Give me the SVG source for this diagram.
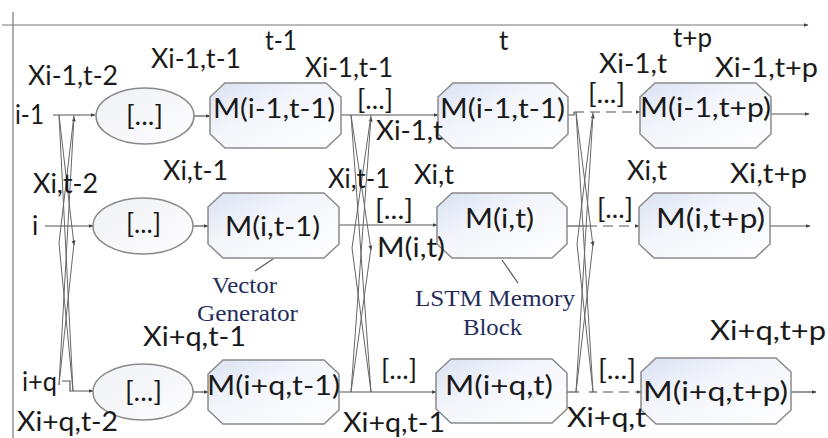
<svg xmlns="http://www.w3.org/2000/svg" width="828" height="438" viewBox="0 0 828 438">
<defs>
<linearGradient id="gb" x1="0" y1="0" x2="1" y2="1">
<stop offset="0" stop-color="#d9e1f2"/>
<stop offset="0.4" stop-color="#f3f5fb"/>
<stop offset="1" stop-color="#ffffff"/>
</linearGradient>
<linearGradient id="ge" x1="0" y1="0" x2="1" y2="1">
<stop offset="0" stop-color="#f0f1f5"/>
<stop offset="1" stop-color="#fdfdfe"/>
</linearGradient>
<marker id="ah" viewBox="0 0 10 10" refX="9" refY="5" markerWidth="5" markerHeight="5" orient="auto" markerUnits="userSpaceOnUse">
<path d="M0,1 L10,5 L0,9 Z" fill="#444"/>
</marker>
</defs>
<style>
.lb{font-family:Lato,"Liberation Sans",sans-serif;font-size:26px;fill:#1a1a1a;}
.sf{font-family:"Liberation Serif","DejaVu Serif",serif;font-size:24px;fill:#1f2d5c;}
.bx{fill:url(#gb);stroke:#8a8a8a;stroke-width:1.5;}
.el{fill:url(#ge);stroke:#8a8a8a;stroke-width:1.5;}
.ln{stroke:#555;stroke-width:1.2;fill:none;}
.cx{stroke:#666;stroke-width:1;fill:none;}
.ds{stroke:#555;stroke-width:1.2;fill:none;stroke-dasharray:10 6;}
.ax{stroke:#777;stroke-width:1.2;fill:none;}
</style>
<rect width="828" height="438" fill="#ffffff"/>

<g id="axes">
<line class="ax" x1="13" y1="12" x2="13" y2="438"/>
<line class="ax" x1="2" y1="25" x2="808" y2="25" marker-end="url(#ah)"/>
</g>

<g id="connectors">
<line class="ln" x1="53" y1="115" x2="95" y2="115" marker-end="url(#ah)"/>
<line class="ln" x1="45" y1="226" x2="93" y2="226" marker-end="url(#ah)"/>
<polyline class="ln" points="62,381 70,381 70,391 93,391" marker-end="url(#ah)"/>
<line class="cx" x1="59" y1="115" x2="73" y2="391"/>
<line class="cx" x1="59" y1="385" x2="74" y2="117" marker-end="url(#ah)"/>
<line class="cx" x1="59" y1="115" x2="74" y2="245" marker-end="url(#ah)"/>
<line class="cx" x1="74" y1="115" x2="59" y2="243"/>
<line class="cx" x1="59" y1="243" x2="73" y2="391"/>
<line class="cx" x1="74" y1="243" x2="59" y2="385"/>
<line class="ln" x1="194" y1="116" x2="210" y2="116" marker-end="url(#ah)"/>
<line class="ln" x1="193" y1="226" x2="208" y2="226" marker-end="url(#ah)"/>
<line class="ln" x1="193" y1="392" x2="208" y2="392" marker-end="url(#ah)"/>
<line class="ln" x1="341" y1="115" x2="438" y2="115" marker-end="url(#ah)"/>
<line class="ln" x1="339" y1="225" x2="437" y2="225" marker-end="url(#ah)"/>
<line class="ln" x1="339" y1="392" x2="436" y2="392" marker-end="url(#ah)"/>
<line class="cx" x1="351" y1="115" x2="371" y2="392"/>
<line class="cx" x1="351" y1="392" x2="371" y2="117" marker-end="url(#ah)"/>
<line class="cx" x1="351" y1="115" x2="371" y2="250" marker-end="url(#ah)"/>
<line class="cx" x1="371" y1="115" x2="352" y2="248"/>
<line class="cx" x1="352" y1="248" x2="371" y2="392"/>
<line class="cx" x1="371" y1="248" x2="351" y2="392"/>
<polyline class="ln" points="568,115 574,115 574,112"/>
<line class="ds" x1="574" y1="112" x2="640" y2="112" marker-end="url(#ah)"/>
<line class="ln" x1="567" y1="226" x2="587" y2="226"/>
<line class="ds" x1="587" y1="226" x2="639" y2="226" marker-end="url(#ah)"/>
<line class="ln" x1="567" y1="392" x2="579" y2="392"/>
<line class="ln" x1="589" y1="392" x2="597" y2="392"/>
<line class="ds" x1="603" y1="392" x2="641" y2="392" marker-end="url(#ah)"/>
<line class="cx" x1="576" y1="112" x2="593" y2="392"/>
<line class="cx" x1="576" y1="392" x2="593" y2="114" marker-end="url(#ah)"/>
<line class="cx" x1="576" y1="112" x2="593" y2="246" marker-end="url(#ah)"/>
<line class="cx" x1="593" y1="112" x2="577" y2="244"/>
<line class="cx" x1="577" y1="244" x2="593" y2="392"/>
<line class="cx" x1="593" y1="244" x2="576" y2="392"/>
<line class="ln" x1="771" y1="114" x2="809" y2="114" marker-end="url(#ah)"/>
<line class="ln" x1="770" y1="226" x2="810" y2="226" marker-end="url(#ah)"/>
<line class="ln" x1="791" y1="392" x2="816" y2="392" marker-end="url(#ah)"/>
<line class="ln" x1="255" y1="271" x2="273" y2="259"/>
<line class="ln" x1="518" y1="283" x2="502" y2="260"/>
</g>

<g id="vg-i-1"><ellipse class="el" cx="145" cy="116" rx="49" ry="28"/><text class="lb" x="126" y="125" textLength="37" lengthAdjust="spacingAndGlyphs">[...]</text></g>
<g id="vg-i"><ellipse class="el" cx="143" cy="226" rx="50" ry="28"/><text class="lb" x="126" y="233" textLength="35" lengthAdjust="spacingAndGlyphs">[...]</text></g>
<g id="vg-iq"><ellipse class="el" cx="143" cy="392" rx="50" ry="28"/><text class="lb" x="125" y="401" textLength="37" lengthAdjust="spacingAndGlyphs">[...]</text></g>

<g id="m-i-1-t-1a"><path class="bx" d="M225,83 H326 L341,97 V134 L326,148 H225 L210,134 V97 Z"/><text class="lb" x="213" y="118" textLength="122" lengthAdjust="spacingAndGlyphs">M(i-1,t-1)</text></g>
<g id="m-i-t-1"><path class="bx" d="M223,193 H324 L339,207 V244 L324,258 H223 L208,244 V207 Z"/><text class="lb" x="225" y="236" textLength="95" lengthAdjust="spacingAndGlyphs">M(i,t-1)</text></g>
<g id="m-iq-t-1"><path class="bx" d="M223,360 H324 L339,374 V410 L324,424 H223 L208,410 V374 Z"/><text class="lb" x="207" y="395" textLength="133" lengthAdjust="spacingAndGlyphs">M(i+q,t-1)</text></g>

<g id="m-i-1-t-1b"><path class="bx" d="M453,83 H553 L568,97 V134 L553,148 H453 L438,134 V97 Z"/><text class="lb" x="440" y="118" textLength="125" lengthAdjust="spacingAndGlyphs">M(i-1,t-1)</text></g>
<g id="m-i-t"><path class="bx" d="M452,193 H552 L567,207 V244 L552,258 H452 L437,244 V207 Z"/><text class="lb" x="465" y="228" textLength="69" lengthAdjust="spacingAndGlyphs">M(i,t)</text></g>
<g id="m-iq-t"><path class="bx" d="M451,359 H552 L567,373 V409 L552,423 H451 L436,409 V373 Z"/><text class="lb" x="445" y="395" textLength="108" lengthAdjust="spacingAndGlyphs">M(i+q,t)</text></g>

<g id="m-i-1-tp"><path class="bx" d="M655,83 H756 L771,97 V134 L756,148 H655 L640,134 V97 Z"/><text class="lb" x="640" y="117" textLength="131" lengthAdjust="spacingAndGlyphs">M(i-1,t+p)</text></g>
<g id="m-i-tp"><path class="bx" d="M654,193 H755 L770,207 V244 L755,258 H654 L639,244 V207 Z"/><text class="lb" x="656" y="228" textLength="109" lengthAdjust="spacingAndGlyphs">M(i,t+p)</text></g>
<g id="m-iq-tp"><path class="bx" d="M656,358 H776 L791,372 V410 L776,424 H656 L641,410 V372 Z"/><text class="lb" x="643" y="401" textLength="145" lengthAdjust="spacingAndGlyphs">M(i+q,t+p)</text></g>

<g id="labels">
<text class="lb" x="265" y="50" textLength="32" lengthAdjust="spacingAndGlyphs">t-1</text>
<text class="lb" x="499" y="50">t</text>
<text class="lb" x="673" y="47" textLength="39" lengthAdjust="spacingAndGlyphs">t+p</text>
<text class="lb" x="28" y="85" textLength="90" lengthAdjust="spacingAndGlyphs">Xi-1,t-2</text>
<text class="lb" x="151" y="68" textLength="90" lengthAdjust="spacingAndGlyphs">Xi-1,t-1</text>
<text class="lb" x="305" y="77" textLength="88" lengthAdjust="spacingAndGlyphs">Xi-1,t-1</text>
<text class="lb" x="599" y="73" textLength="68" lengthAdjust="spacingAndGlyphs">Xi-1,t</text>
<text class="lb" x="715" y="77" textLength="103" lengthAdjust="spacingAndGlyphs">Xi-1,t+p</text>
<text class="lb" x="15" y="124" textLength="29" lengthAdjust="spacingAndGlyphs">i-1</text>
<text class="lb" x="357" y="109" textLength="36" lengthAdjust="spacingAndGlyphs">[...]</text>
<text class="lb" x="376" y="140" textLength="67" lengthAdjust="spacingAndGlyphs">Xi-1,t</text>
<text class="lb" x="588" y="103" textLength="37" lengthAdjust="spacingAndGlyphs">[...]</text>
<text class="lb" x="33" y="193" textLength="65" lengthAdjust="spacingAndGlyphs">Xi,t-2</text>
<text class="lb" x="163" y="180" textLength="65" lengthAdjust="spacingAndGlyphs">Xi,t-1</text>
<text class="lb" x="328" y="188" textLength="62" lengthAdjust="spacingAndGlyphs">Xi,t-1</text>
<text class="lb" x="414" y="184" textLength="40" lengthAdjust="spacingAndGlyphs">Xi,t</text>
<text class="lb" x="627" y="180" textLength="40" lengthAdjust="spacingAndGlyphs">Xi,t</text>
<text class="lb" x="730" y="183" textLength="77" lengthAdjust="spacingAndGlyphs">Xi,t+p</text>
<text class="lb" x="32" y="235">i</text>
<text class="lb" x="375" y="219" textLength="38" lengthAdjust="spacingAndGlyphs">[...]</text>
<text class="lb" x="597" y="218" textLength="36" lengthAdjust="spacingAndGlyphs">[...]</text>
<text class="lb" x="377" y="257" textLength="68" lengthAdjust="spacingAndGlyphs">M(i,t)</text>
<text class="sf" x="212" y="293" textLength="65" lengthAdjust="spacingAndGlyphs">Vector</text>
<text class="sf" x="197" y="321" textLength="101" lengthAdjust="spacingAndGlyphs">Generator</text>
<text class="sf" x="415" y="306" textLength="160" lengthAdjust="spacingAndGlyphs">LSTM Memory</text>
<text class="sf" x="463" y="335" textLength="59" lengthAdjust="spacingAndGlyphs">Block</text>
<text class="lb" x="143" y="346" textLength="103" lengthAdjust="spacingAndGlyphs">Xi+q,t-1</text>
<text class="lb" x="710" y="340" textLength="116" lengthAdjust="spacingAndGlyphs">Xi+q,t+p</text>
<text class="lb" x="22" y="391" textLength="35" lengthAdjust="spacingAndGlyphs">i+q</text>
<text class="lb" x="381" y="379" textLength="36" lengthAdjust="spacingAndGlyphs">[...]</text>
<text class="lb" x="598" y="379" textLength="38" lengthAdjust="spacingAndGlyphs">[...]</text>
<text class="lb" x="17" y="431" textLength="101" lengthAdjust="spacingAndGlyphs">Xi+q,t-2</text>
<text class="lb" x="343" y="432" textLength="102" lengthAdjust="spacingAndGlyphs">Xi+q,t-1</text>
<text class="lb" x="567" y="427" textLength="79" lengthAdjust="spacingAndGlyphs">Xi+q,t</text>
</g>
</svg>
